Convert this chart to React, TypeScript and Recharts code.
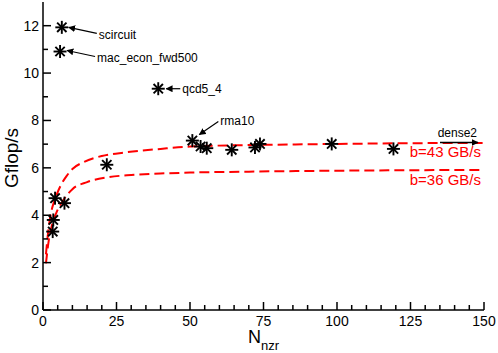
import React from "react";
import { ComposedChart, Line, Scatter, XAxis, YAxis, ReferenceDot } from "recharts";

// model curves
const fitN43 = [1, 2, 3, 4, 6, 8, 10, 14, 20, 28, 40, 50, 75, 100, 125, 150];
const fitG43 = [2.35, 3.55, 4.25, 4.65, 5.25, 5.65, 5.95, 6.25, 6.5, 6.65, 6.8, 6.9, 6.97, 7.01, 7.04, 7.05];
const fitN36 = [1, 2, 3, 4.7, 7, 10, 15, 22, 30, 42, 50, 70, 100, 125, 150];
const fitG36 = [1.97, 2.97, 3.56, 4.15, 4.65, 5.1, 5.4, 5.6, 5.7, 5.77, 5.8, 5.84, 5.88, 5.9, 5.91];

// measured matrices
const pointN = [6.4, 5.8, 39.2, 50.8, 53.6, 55.7, 64.2, 72.1, 73.8, 98.2, 119.2, 21.7, 4.1, 7.3, 3.5, 3.3];
const pointG = [11.93, 10.91, 9.34, 7.15, 6.9, 6.83, 6.76, 6.86, 7.01, 7.01, 6.8, 6.13, 4.72, 4.51, 3.8, 3.31];
const pointNames = ["scircuit", "mac_econ_fwd500", "qcd5_4", "rma10", "", "", "", "", "", "", "", "", "", "", "", ""];

// off-scale matrix, drawn as an arrow at the right edge
const denseName = "dense2";
const denseG = 7.07;

const curveLabels = ["b=43 GB/s", "b=36 GB/s"];

const xTicks = [0, 5, 10, 15, 20, 25, 30, 35, 40, 45, 50, 55, 60, 65, 70, 75, 80, 85, 90, 95, 100, 105, 110, 115, 120, 125, 130, 135, 140, 145, 150];
const yTicks = [0, 1, 2, 3, 4, 5, 6, 7, 8, 9, 10, 11, 12];

const fit43 = fitN43.map((n, i) => ({ n, g: fitG43[i] }));
const fit36 = fitN36.map((n, i) => ({ n, g: fitG36[i] }));
const points = pointN.map((n, i) => ({ n, g: pointG[i], name: pointNames[i] }));

const FONT = "'Liberation Sans', Arial, Helvetica, sans-serif";
const RED = "#ff0000";

// pixel offsets of annotation arrows/text relative to the point
const annot: Record<string, { x1: number; y1: number; x2: number; y2: number; tx: number; ty: number }> = {
    scircuit: { x1: 35, y1: 6, x2: 7, y2: 0, tx: 37, ty: 12 },
    mac_econ_fwd500: { x1: 35, y1: 5, x2: 7, y2: -1, tx: 37, ty: 10 },
    qcd5_4: { x1: 22, y1: 0, x2: 8, y2: 0, tx: 24, ty: 4 },
    rma10: { x1: 26, y1: -19, x2: 7, y2: -6, tx: 28, ty: -16 },
};

const isMajorX = (v: number) => v % 25 === 0;
const isMajorY = (v: number) => v % 2 === 0;

const BottomTick = ({ x, y, payload }: any) => {
    const major = isMajorX(payload.value);
    return (
        <g>
            <line x1={x} x2={x} y1={y} y2={y - (major ? 8 : 5)} stroke="#000" strokeWidth={1.5} />
            {major && <text x={x} y={y + 16} textAnchor="middle" fontSize={14} fontFamily={FONT} fill="#000">{payload.value}</text>}
        </g>
    );
};

const TopTick = ({ x, y, payload }: any) => {
    const major = isMajorX(payload.value);
    return <line x1={x} x2={x} y1={y} y2={y + (major ? 8 : 5)} stroke="#000" strokeWidth={1.5} />;
};

const LeftTick = ({ x, y, payload }: any) => {
    const major = isMajorY(payload.value);
    return (
        <g>
            <line x1={x} x2={x + (major ? 8 : 5)} y1={y} y2={y} stroke="#000" strokeWidth={1.5} />
            {major && <text x={x - 4} y={y + 5} textAnchor="end" fontSize={14} fontFamily={FONT} fill="#000">{payload.value}</text>}
        </g>
    );
};

const RightTick = ({ x, y, payload }: any) => {
    const major = isMajorY(payload.value);
    return <line x1={x} x2={x - (major ? 8 : 5)} y1={y} y2={y} stroke="#000" strokeWidth={1.5} />;
};

const Asterisk = (props: any) => {
    const { cx, cy, payload } = props;
    const r = 6.5;
    const d = r * 0.72;
    const a = annot[payload?.name];
    return (
        <g>
            <line x1={cx - r} x2={cx + r} y1={cy} y2={cy} stroke="#000" strokeWidth={1.9} />
            <line x1={cx} x2={cx} y1={cy - r} y2={cy + r} stroke="#000" strokeWidth={1.9} />
            <line x1={cx - d} x2={cx + d} y1={cy - d} y2={cy + d} stroke="#000" strokeWidth={1.9} />
            <line x1={cx - d} x2={cx + d} y1={cy + d} y2={cy - d} stroke="#000" strokeWidth={1.9} />
            {a && (
                <g>
                    <line x1={cx + a.x1} y1={cy + a.y1} x2={cx + a.x2} y2={cy + a.y2} stroke="#000" strokeWidth={1.2} markerEnd="url(#arrowHead)" />
                    <text x={cx + a.tx} y={cy + a.ty} fontSize={12} fontFamily={FONT} fill="#000">{payload.name}</text>
                </g>
            )}
        </g>
    );
};

const DenseArrow = ({ cx, cy }: any) => (
    <g>
        <line x1={cx - 44} y1={cy} x2={cx - 6} y2={cy} stroke="#000" strokeWidth={1.5} markerEnd="url(#arrowHead)" />
        <text x={cx - 7} y={cy - 5} textAnchor="end" fontSize={12} fontFamily={FONT} fill="#000">{denseName}</text>
    </g>
);

const CurveLabel = (label: string, dy: number) => ({ cx, cy }: any) => (
    <text x={cx - 3} y={cy + dy} textAnchor="end" fontSize={15} fontFamily={FONT} fill={RED}>{label}</text>
);

export default function App() {
    return (
        <div style={{ position: "absolute", left: 0, top: 0, width: 498, height: 353, background: "#fff" }}>
            <ComposedChart width={498} height={353} margin={{ top: 2, right: 14, left: 0, bottom: 0 }}>
                <defs>
                    <marker id="arrowHead" viewBox="0 0 10 10" refX="9" refY="5" markerWidth="7" markerHeight="7" markerUnits="userSpaceOnUse" orient="auto">
                        <path d="M0,0 L10,5 L0,10 z" fill="#000" />
                    </marker>
                </defs>
                <XAxis xAxisId={0} dataKey="n" type="number" domain={[0, 150]} ticks={xTicks} interval={0} allowDataOverflow
                    height={43} tickSize={0} tickMargin={0} tick={<BottomTick />} axisLine={{ stroke: "#000", strokeWidth: 1.5 }} />
                <XAxis xAxisId="top" orientation="top" dataKey="n" type="number" domain={[0, 150]} ticks={xTicks} interval={0} allowDataOverflow
                    height={0} tickSize={0} tickMargin={0} tick={<TopTick />} axisLine={{ stroke: "#000", strokeWidth: 1.5 }} />
                <YAxis yAxisId={0} type="number" domain={[0, 13]} ticks={yTicks} interval={0} allowDataOverflow
                    width={43} tickSize={0} tickMargin={0} tick={<LeftTick />} axisLine={{ stroke: "#000", strokeWidth: 1.5 }} />
                <YAxis yAxisId="right" orientation="right" type="number" domain={[0, 13]} ticks={yTicks} interval={0} allowDataOverflow
                    width={0} tickSize={0} tickMargin={0} tick={<RightTick />} axisLine={{ stroke: "#000", strokeWidth: 1.5 }} />
                <Line data={fit43} dataKey="g" type="monotone" stroke={RED} strokeWidth={2} strokeDasharray="10 5" dot={false} activeDot={false} isAnimationActive={false} />
                <Line data={fit36} dataKey="g" type="monotone" stroke={RED} strokeWidth={2} strokeDasharray="10 5" dot={false} activeDot={false} isAnimationActive={false} />
                <Scatter data={points} dataKey="g" shape={Asterisk} isAnimationActive={false} />
                <ReferenceDot x={150} y={denseG} r={0} shape={DenseArrow} />
                <ReferenceDot x={150} y={fitG43[fitG43.length - 1]} r={0} shape={CurveLabel(curveLabels[0], 14)} />
                <ReferenceDot x={150} y={fitG36[fitG36.length - 1]} r={0} shape={CurveLabel(curveLabels[1], 15)} />
            </ComposedChart>
            <svg width={498} height={353} style={{ position: "absolute", left: 0, top: 0, pointerEvents: "none" }}>
                <text transform="translate(18,158) rotate(-90)" textAnchor="middle" fontSize={19} fontFamily={FONT} fill="#000">Gflop/s</text>
                <text x={248} y={343} fontSize={18} fontFamily={FONT} fill="#000">
                    N<tspan fontSize={13} dy={7}>nzr</tspan>
                </text>
            </svg>
        </div>
    );
}
